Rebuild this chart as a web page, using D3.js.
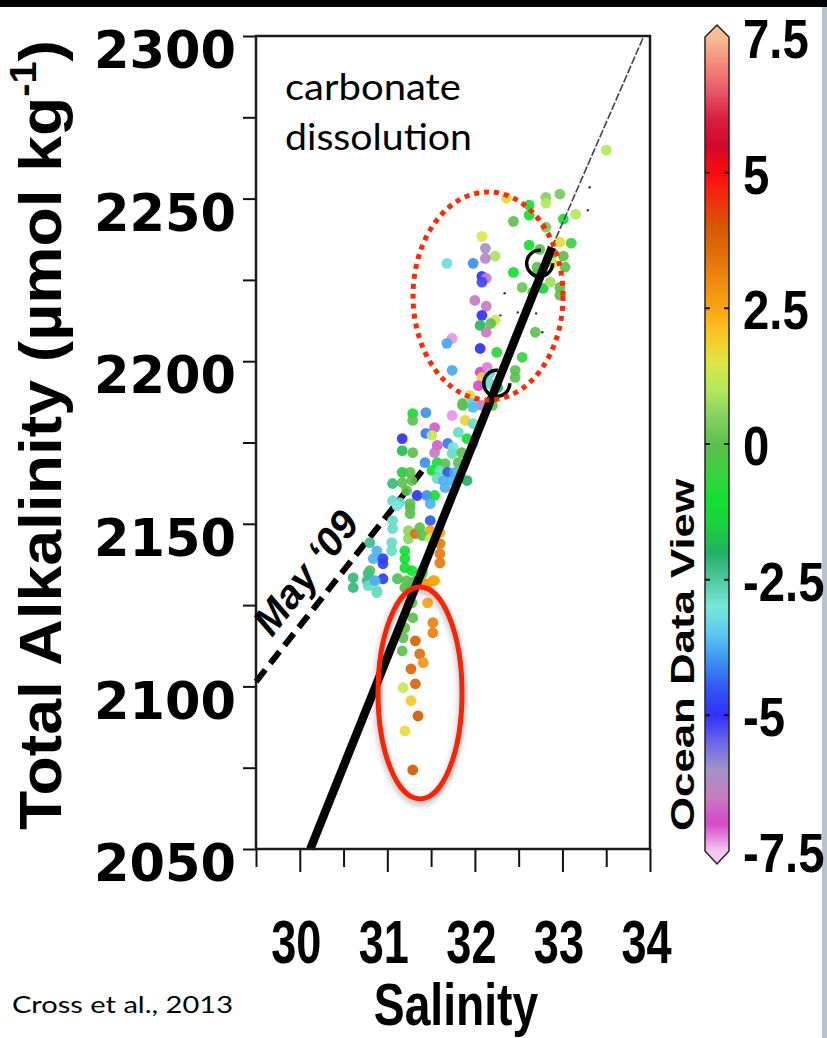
<!DOCTYPE html>
<html>
<head>
<meta charset="utf-8">
<script src="https://cdn.jsdelivr.net/npm/d3@7"></script>
<style>
  body { margin: 0; background: #fff; }
  svg { display: block; }
</style>
</head>
<body>
<div class="chart"></div>
<script>
// salinity, total alkalinity and colour value of every sample
const salinity = [
  33.50, 32.36, 32.81, 32.81, 32.97, 32.62, 32.62, 32.44, 33.01, 33.15,
  32.81, 32.08, 32.97, 33.10, 32.62, 32.12, 32.23, 32.12, 31.68, 31.98,
  32.74, 32.89, 33.01, 32.89, 33.03, 32.71, 32.44, 32.08, 32.13, 32.08,
  32.71, 32.54, 32.66, 32.78, 32.86, 32.97, 32.97, 32.00, 32.13, 32.08,
  32.23, 32.18, 32.06, 32.13, 32.69, 31.74, 31.68, 32.06, 32.25, 32.54,
  31.74, 32.46, 32.46, 32.06, 32.14, 32.08, 32.17, 32.04, 32.17, 32.26,
  31.94, 31.86, 31.97, 32.08, 32.20, 31.29, 31.29, 31.44, 31.74, 31.86,
  31.98, 31.54, 31.44, 31.51, 31.17, 31.17, 31.29, 31.57, 31.54, 31.69,
  31.89, 31.81, 31.98, 31.91, 31.98, 31.75, 31.74, 31.85, 31.81, 31.43,
  31.57, 31.66, 31.51, 31.60, 31.69, 31.77, 31.17, 31.26, 31.28, 31.17,
  31.06, 31.57, 31.64, 31.74, 31.91, 31.22, 31.34, 31.45, 31.54, 31.66,
  31.06, 31.14, 31.26, 31.11, 31.26, 31.26, 31.49, 31.06, 31.06, 31.24,
  31.24, 31.32, 31.37, 31.49, 31.49, 31.60, 31.40, 31.49, 31.60, 31.60,
  31.60, 31.05, 31.05, 30.80, 30.88, 30.84, 30.95, 30.95, 31.20, 31.20,
  31.20, 31.28, 31.40, 30.80, 30.61, 30.61, 30.77, 30.84, 30.95, 31.11,
  31.22, 31.29, 31.43, 31.52, 30.88, 30.78, 30.78, 30.86, 30.88, 31.12,
  31.20, 31.32, 31.40, 31.45, 31.54, 31.28, 31.46, 31.29, 31.20, 31.18,
  31.52, 31.52, 31.32, 31.17, 31.37, 31.41, 31.27, 31.32, 31.18, 31.27,
  31.35, 31.20, 31.29
];
const alkalinity = [
  2264.9, 2250.1, 2250.4, 2248.6, 2251.4, 2248.0, 2244.9, 2243.0, 2243.7, 2245.2,
  2241.2, 2238.4, 2236.6, 2236.3, 2235.7, 2234.7, 2232.3, 2231.6, 2230.1, 2230.1,
  2234.4, 2233.2, 2232.3, 2230.1, 2228.9, 2228.9, 2227.3, 2226.1, 2225.5, 2224.3,
  2227.0, 2222.7, 2221.2, 2222.4, 2224.3, 2222.7, 2220.3, 2218.7, 2216.9, 2214.1,
  2212.6, 2211.6, 2211.0, 2208.9, 2208.9, 2207.0, 2205.5, 2203.9, 2202.7, 2201.2,
  2197.2, 2197.2, 2195.0, 2196.6, 2198.1, 2195.0, 2196.2, 2192.5, 2193.2, 2191.9,
  2189.5, 2187.0, 2187.0, 2186.4, 2186.4, 2183.9, 2181.8, 2184.2, 2183.3, 2186.4,
  2185.8, 2179.6, 2177.8, 2177.2, 2176.2, 2172.5, 2171.9, 2174.1, 2171.9, 2174.7,
  2181.8, 2178.1, 2180.8, 2176.2, 2174.7, 2173.5, 2171.6, 2171.9, 2168.8, 2168.8,
  2168.8, 2168.5, 2166.4, 2166.4, 2165.8, 2165.8, 2165.8, 2165.8, 2163.3, 2162.7,
  2162.4, 2163.9, 2163.3, 2163.3, 2163.3, 2160.2, 2158.7, 2158.7, 2158.7, 2161.1,
  2157.1, 2156.5, 2156.2, 2155.6, 2155.0, 2153.1, 2156.2, 2151.0, 2148.5, 2147.9,
  2145.4, 2147.0, 2148.8, 2151.0, 2147.9, 2147.3, 2146.4, 2145.4, 2143.9, 2140.8,
  2138.0, 2144.2, 2141.7, 2144.2, 2141.7, 2139.3, 2139.3, 2137.7, 2141.7, 2139.3,
  2136.5, 2135.6, 2135.6, 2135.6, 2133.4, 2130.4, 2132.5, 2132.5, 2133.1, 2133.1,
  2132.5, 2131.9, 2131.6, 2132.5, 2129.4, 2134.7, 2131.0, 2132.5, 2128.8, 2133.1,
  2130.4, 2132.5, 2134.7, 2131.0, 2132.5, 2125.7, 2125.7, 2121.1, 2118.0, 2115.0,
  2119.6, 2116.5, 2114.0, 2110.9, 2110.0, 2107.3, 2105.4, 2100.8, 2099.6, 2095.6,
  2090.9, 2086.3, 2074.3
];
const colourValue = [
  1.0, 1.7, 0.5, 1.0, 0.3, -1.0, -1.0, 0.0, -1.0, 1.0,
  0.3, 1.5, 1.7, -0.5, -1.0, -6.0, 0.9, -6.3, -3.2, -4.0,
  0.0, 0.0, 0.0, 1.3, 0.0, 0.0, -1.0, -5.0, -6.5, -5.2,
  -0.2, 0.2, 0.0, -1.5, 0.8, 0.0, 0.0, -6.5, -6.5, -5.0,
  1.3, 0.0, -1.8, -6.5, 0.0, -7.3, -3.8, -5.0, -0.8, -0.5,
  -3.8, 0.0, 0.0, -7.0, -7.2, 1.8, -2.8, -7.0, -2.8, -2.0,
  1.7, 0.0, -3.5, -6.5, 0.0, -1.0, 0.0, -4.0, -7.3, 0.0,
  -3.6, -6.8, -4.2, 1.2, -5.0, -1.8, 0.0, -6.8, -6.5, -4.2,
  1.8, -2.8, -2.8, -1.0, -3.5, -3.0, -2.8, 0.0, 0.0, -4.0,
  -1.0, 0.0, -1.0, -2.8, -4.5, -3.7, -1.5, 0.0, 0.0, 0.0,
  -2.2, -2.8, -3.7, -3.7, -2.0, 0.0, -5.0, -4.0, -1.0, -3.7,
  -2.8, -2.8, 0.0, -3.0, 0.0, 0.0, -3.7, -2.8, -2.8, 0.6,
  0.6, 3.5, 0.0, -4.5, 2.5, 2.5, 0.0, 1.2, 3.3, 3.3,
  3.3, -2.8, -2.8, -2.3, -3.7, -3.7, -4.8, -4.8, -1.0, -1.0,
  -1.0, -1.0, 0.0, 0.0, -2.2, -2.2, -2.2, -3.7, -4.8, -3.0,
  0.0, 0.0, 3.0, 2.7, -3.3, -2.3, -2.8, -3.7, -2.8, 0.0,
  0.0, 0.0, 0.0, 2.5, 2.5, 0.0, 2.5, 0.0, 0.0, 0.0,
  3.2, 3.2, 3.8, 0.0, 3.5, 2.8, 3.7, 3.7, 1.2, 2.0,
  4.0, 1.7, 4.0
];

// tiny black specks
const speckSal = [33.31, 33.29, 32.34, 32.49, 32.70, 32.77, 32.29];
const speckTA  = [2253.5, 2246.4, 2220.9, 2215.0, 2214.7, 2208.9, 2214.1];

// fitted lines
const fitLine  = [[30.12, 2050], [32.88, 2235]];
const fitExt   = [[32.88, 2235], [33.93, 2300]];
const mayLine  = [[29.5, 2101.5], [31.42, 2167]];
const loopSal  = [32.74, 32.25];
const loopTA   = [2230.1, 2193.2];

// axes
const salTicks = [30, 31, 32, 33, 34];
const taTicks  = [2050, 2100, 2150, 2200, 2250, 2300];

// Ocean Data View colour bar
const cbStops  = [-7.5, -7, -6.5, -6, -5.5, -5, -4.5, -4, -3.5, -3, -2.5, -2, -1.5, -1, -0.5,
                  0, 0.5, 1, 1.5, 2, 2.5, 3, 3.5, 4, 4.5, 5, 5.5, 6, 6.5, 7, 7.5];
const cbColors = ["#f2c8f0", "#d848c8", "#c67cc0", "#a094c8", "#6a68e6", "#3030ff", "#3058f0", "#3a90f0",
                  "#5cc8f2", "#78e8d8", "#52c8a0", "#22b062", "#1cd040", "#12e030", "#3cd040",
                  "#5cc04e", "#86d060", "#b4e85a", "#dce646", "#f8c828", "#fba512", "#f08a10",
                  "#e06e08", "#d85800", "#f03010", "#ff0a10", "#d20828", "#d82040", "#e85868",
                  "#f48a78", "#f9bc94"];
const cbTicks  = [7.5, 5, 2.5, 0, -2.5, -5, -7.5];

const W = 827, H = 1038;
const svg = d3.select('.chart').append('svg')
    .attr("width", W)
    .attr("height", H);

const x = d3.scaleLinear().domain([29.5, 34]).range([256, 650]);
const y = d3.scaleLinear().domain([2050, 2300]).range([849, 36]);
const colour = d3.scaleLinear().domain(cbStops).range(cbColors).clamp(true);

// slide bits round the figure
svg.append("rect").attr("x", 0).attr("y", 0).attr("width", W).attr("height", 7).attr("fill", "#000");
svg.append("rect").attr("x", 822).attr("y", 7).attr("width", 5).attr("height", H).attr("fill", "#b3c4d4");

const defs = svg.append("defs");
defs.append("filter").attr("id", "shadow")
    .attr("x", "-30%").attr("y", "-30%").attr("width", "160%").attr("height", "160%")
  .append("feDropShadow")
    .attr("dx", 0).attr("dy", 3).attr("stdDeviation", 3)
    .attr("flood-color", "#000").attr("flood-opacity", 0.35);

// y axis (ticks every 25, labels every 50)
svg.append("g")
    .attr("transform", "translate(256,0)")
    .call(d3.axisLeft(y).tickValues(d3.range(2050, 2301, 25)).tickSize(13)
      .tickFormat(d => taTicks.includes(d) ? d : ""))
    .call(g => g.select(".domain").remove())
    .call(g => g.selectAll(".tick line").attr("stroke", "#111").attr("stroke-width", 2))
    .call(g => g.selectAll(".tick text")
      .attr("x", -20).attr("dy", "0.62em")
      .attr("font-family", "DejaVu Sans").attr("font-weight", "bold")
      .attr("font-size", 51).attr("fill", "#000"));

// x axis (ticks every 0.5)
svg.append("g")
    .attr("transform", "translate(0,849)")
    .call(d3.axisBottom(x).tickValues(d3.range(29.5, 34.01, 0.5)).tickSize(22)
      .tickFormat(d => salTicks.includes(d) ? d : ""))
    .call(g => g.select(".domain").remove())
    .call(g => g.selectAll(".tick line")
      .attr("stroke", "#111").attr("stroke-width", 2)
      .attr("y2", d => salTicks.includes(d) ? 23 : 18))
    .call(g => g.selectAll(".tick text")
      .attr("y", 114).attr("dy", 0).attr("x", -4 / 0.74)
      .attr("transform", "scale(0.74,1)")
      .attr("font-family", "Liberation Sans").attr("font-weight", "bold")
      .attr("font-size", 61).attr("fill", "#000"));

// may '09 dashed line (under the samples)
const line = d3.line().x(d => x(d[0])).y(d => y(d[1]));
svg.append("path")
    .datum(mayLine)
    .attr("d", line)
    .attr("fill", "none")
    .attr("stroke", "#000")
    .attr("stroke-width", 6)
    .attr("stroke-dasharray", "15,8");

// samples
svg.append("g")
  .selectAll("circle")
  .data(salinity.map((s, i) => ({s, ta: alkalinity[i], v: colourValue[i]})))
  .join("circle")
    .attr("cx", d => x(d.s))
    .attr("cy", d => y(d.ta))
    .attr("r", 5.4)
    .attr("fill", d => colour(d.v))
    .attr("fill-opacity", 0.92);

svg.append("g")
  .selectAll("circle")
  .data(speckSal.map((s, i) => [s, speckTA[i]]))
  .join("circle")
    .attr("cx", d => x(d[0]))
    .attr("cy", d => y(d[1]))
    .attr("r", 1.2)
    .attr("fill", "#333");

// fitted line and its thin dashed extension
svg.append("path")
    .datum(fitLine)
    .attr("d", line)
    .attr("fill", "none")
    .attr("stroke", "#000")
    .attr("stroke-width", 8.5);

svg.append("path")
    .datum(fitExt)
    .attr("d", line)
    .attr("fill", "none")
    .attr("stroke", "#444")
    .attr("stroke-width", 1.6)
    .attr("stroke-dasharray", "8,2");

svg.append("g")
  .selectAll("circle")
  .data(loopSal.map((s, i) => [s, loopTA[i]]))
  .join("circle")
    .attr("cx", d => x(d[0]))
    .attr("cy", d => y(d[1]))
    .attr("r", 13)
    .attr("fill", "none")
    .attr("stroke", "#000")
    .attr("stroke-width", 3.5)
    .attr("stroke-dasharray", "62,20");

// frame
svg.append("rect")
    .attr("x", 256).attr("y", 36)
    .attr("width", 394).attr("height", 813)
    .attr("fill", "none")
    .attr("stroke", "#1a1a1a")
    .attr("stroke-width", 2.5);

// red ellipses
svg.append("ellipse")
    .attr("cx", 488).attr("cy", 296).attr("rx", 75).attr("ry", 104)
    .attr("fill", "none")
    .attr("stroke", "#ff2a00")
    .attr("stroke-width", 5)
    .attr("stroke-dasharray", "5,5");

svg.append("ellipse")
    .attr("cx", 420).attr("cy", 693).attr("rx", 42).attr("ry", 106)
    .attr("fill", "none")
    .attr("stroke", "#ff2200")
    .attr("stroke-width", 5)
    .attr("filter", "url(#shadow)");

// annotations
svg.append("text")
    .attr("transform", "translate(272,638) rotate(-52)")
    .attr("font-family", "Liberation Sans")
    .attr("font-weight", "bold")
    .attr("font-style", "italic")
    .attr("font-size", 40)
    .text("May \u201809");

svg.append("text")
    .attr("x", 285).attr("y", 100)
    .attr("font-family", "Lato")
    .attr("font-size", 37)
    .attr("textLength", 176)
    .attr("lengthAdjust", "spacingAndGlyphs")
    .text("carbonate");
svg.append("text")
    .attr("x", 285).attr("y", 150)
    .attr("font-family", "Lato")
    .attr("font-size", 37)
    .attr("textLength", 187)
    .attr("lengthAdjust", "spacingAndGlyphs")
    .text("dissolution");

svg.append("text")
    .attr("x", 12).attr("y", 1013)
    .attr("font-family", "Lato")
    .attr("font-size", 24)
    .attr("textLength", 221)
    .attr("lengthAdjust", "spacingAndGlyphs")
    .text("Cross et al., 2013");

// axis titles
svg.append("text")
    .attr("transform", "translate(456,1025) scale(0.77,1)")
    .attr("text-anchor", "middle")
    .attr("font-family", "Liberation Sans")
    .attr("font-weight", "bold")
    .attr("font-size", 60)
    .text("Salinity");

const yTitle = svg.append("text")
    .attr("transform", "translate(61,435) rotate(-90)")
    .attr("text-anchor", "middle")
    .attr("font-family", "Liberation Sans")
    .attr("font-weight", "bold")
    .attr("font-size", 60)
    .attr("textLength", 790)
    .attr("lengthAdjust", "spacingAndGlyphs");
yTitle.append("tspan").text("Total Alkalinity (\u00b5mol kg");
yTitle.append("tspan").attr("font-size", 37).attr("dy", -25).text("-1");
yTitle.append("tspan").attr("dy", 25).text(")");

// colour bar
const yc = d3.scaleLinear().domain([-7.5, 7.5]).range([851, 37]);
const grad = defs.append("linearGradient")
    .attr("id", "cb")
    .attr("gradientUnits", "userSpaceOnUse")
    .attr("x1", 0).attr("x2", 0)
    .attr("y1", yc(-7.5)).attr("y2", yc(7.5));
grad.selectAll("stop")
  .data(cbStops)
  .join("stop")
    .attr("offset", d => (d + 7.5) / 15)
    .attr("stop-color", d => colour(d));

const cx0 = 705, cx1 = 729, cxm = 717;
svg.append("path")
    .attr("d", `M${cx0},${yc(7.5)} L${cxm},${yc(7.5) - 12} L${cx1},${yc(7.5)} L${cx1},${yc(-7.5)} L${cxm},${yc(-7.5) + 13} L${cx0},${yc(-7.5)} Z`)
    .attr("fill", "url(#cb)")
    .attr("stroke", "#222")
    .attr("stroke-width", 1.5);

svg.append("g")
  .selectAll("path")
  .data(cbTicks.filter(d => Math.abs(d) < 7.5))
  .join("path")
    .attr("d", d => `M${cx0},${yc(d)}h5M${cx1},${yc(d)}h-5`)
    .attr("stroke", "#111")
    .attr("stroke-width", 2);

svg.append("g")
  .selectAll("text")
  .data(cbTicks)
  .join("text")
    .attr("transform", d => `translate(743,${yc(d) + 21}) scale(0.86,1)`)
    .attr("font-family", "Liberation Sans")
    .attr("font-weight", "bold")
    .attr("font-size", 55)
    .text(d => d);

svg.append("text")
    .attr("transform", "translate(694,655) rotate(-90)")
    .attr("text-anchor", "middle")
    .attr("font-family", "Liberation Sans")
    .attr("font-weight", "bold")
    .attr("font-size", 34)
    .attr("textLength", 352)
    .attr("lengthAdjust", "spacingAndGlyphs")
    .text("Ocean Data View");
</script>
</body>
</html>
